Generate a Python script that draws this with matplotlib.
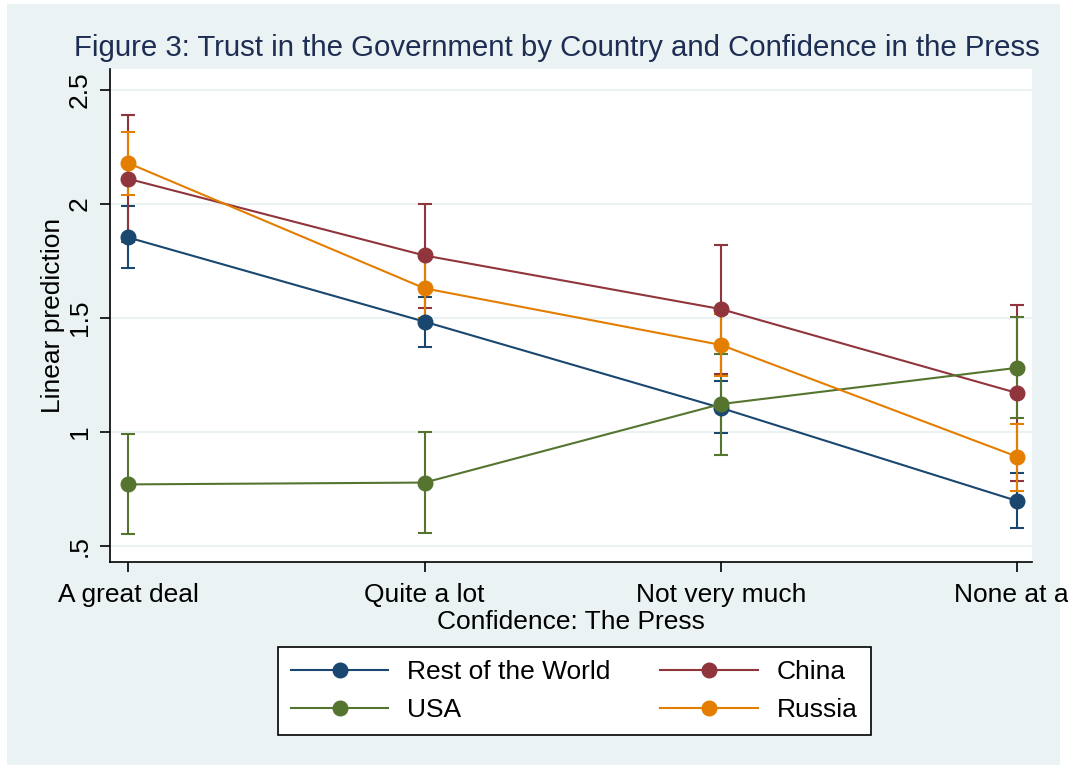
import numpy as np
import matplotlib
matplotlib.use("Agg")
import matplotlib.pyplot as plt
from matplotlib.patches import Rectangle

plt.rcParams['font.family'] = ['Liberation Sans', 'DejaVu Sans']

categories = ['A great deal', 'Quite a lot', 'Not very much', 'None at all']
series = ['Rest of the World', 'China', 'USA', 'Russia']
colors = ['#1a476f', '#90353b', '#55752f', '#e37e00']

# predictions and 95% CI bounds per series
row_mid = [1.852, 1.483, 1.105, 0.697]
row_lo = [1.716, 1.374, 0.996, 0.577]
row_hi = [1.988, 1.593, 1.221, 0.819]

china_mid = [2.109, 1.773, 1.538, 1.170]
china_lo = [1.830, 1.542, 1.254, 0.783]
china_hi = [2.390, 2.000, 1.821, 1.557]

usa_mid = [0.770, 0.778, 1.122, 1.281]
usa_lo = [0.552, 0.557, 0.898, 1.062]
usa_hi = [0.993, 1.000, 1.343, 1.504]

russia_mid = [2.178, 1.629, 1.381, 0.891]
russia_lo = [2.039, 1.500, 1.247, 0.743]
russia_hi = [2.313, 1.760, 1.515, 1.036]

mids = [row_mid, china_mid, usa_mid, russia_mid]
los = [row_lo, china_lo, usa_lo, russia_lo]
his = [row_hi, china_hi, usa_hi, russia_hi]

W, H = 1068, 769
fig = plt.figure(figsize=(W / 100, H / 100), dpi=100, facecolor='white')
fig.patches.append(Rectangle((7 / W, 4 / H), 1053 / W, 761 / H, transform=fig.transFigure,
                             facecolor='#eaf2f3', edgecolor='none', zorder=-10))

ax = fig.add_axes([110 / W, 1 - 562 / H, 922 / W, 493 / H])
ax.set_facecolor('white')
x = np.arange(len(categories))

# confidence intervals first, then lines with markers on top
for mid, lo, hi, c in zip(mids, los, his, colors):
    mid = np.array(mid)
    err = [mid - np.array(lo), np.array(hi) - mid]
    ax.errorbar(x, mid, yerr=err, fmt='none', ecolor=c, elinewidth=1.5,
                capsize=4.8, capthick=1.5, zorder=2)
handles = []
for mid, c, name in zip(mids, colors, series):
    h, = ax.plot(x, mid, '-o', color=c, lw=1.5, ms=10.5, label=name, zorder=3)
    handles.append(h)

ax.set_xlim(-0.061, 3.049)
ax.set_ylim(0.43, 2.59)
ax.set_yticks([0.5, 1, 1.5, 2, 2.5])
ax.set_yticklabels(['.5', '1', '1.5', '2', '2.5'], rotation=90, va='center')
ax.set_xticks(x)
ax.set_xticklabels(categories)
ax.tick_params(axis='both', labelsize=19, length=7, width=1.2, color='black')
ax.tick_params(axis='x', pad=8)
ax.tick_params(axis='y', pad=6)
ax.grid(axis='y', color='#eaf2f3', lw=1.5)
ax.set_axisbelow(True)
for s in ['top', 'right']:
    ax.spines[s].set_visible(False)
for s in ['left', 'bottom']:
    ax.spines[s].set_linewidth(1.2)

ax.set_ylabel('Linear prediction', fontsize=19, labelpad=2)
ax.set_xlabel('Confidence: The Press', fontsize=19, labelpad=2)
fig.text(557 / W, 1 - 48 / H, 'Figure 3: Trust in the Government by Country and Confidence in the Press',
         ha='center', va='center', fontsize=21.2, color='#1e2d53')

leg_order = [handles[0], handles[2], handles[1], handles[3]]
fig.legend(leg_order, [h.get_label() for h in leg_order], loc='center',
           bbox_to_anchor=(574 / W, 1 - 691 / H), ncol=2, fontsize=19,
           frameon=True, fancybox=False, edgecolor='black', framealpha=1,
           handlelength=3.7, handletextpad=0.7, columnspacing=1.9,
           labelspacing=0.55, borderpad=0.5)
fig.legends[0].get_frame().set_linewidth(1.2)

fig.savefig('out.png', dpi=100)
